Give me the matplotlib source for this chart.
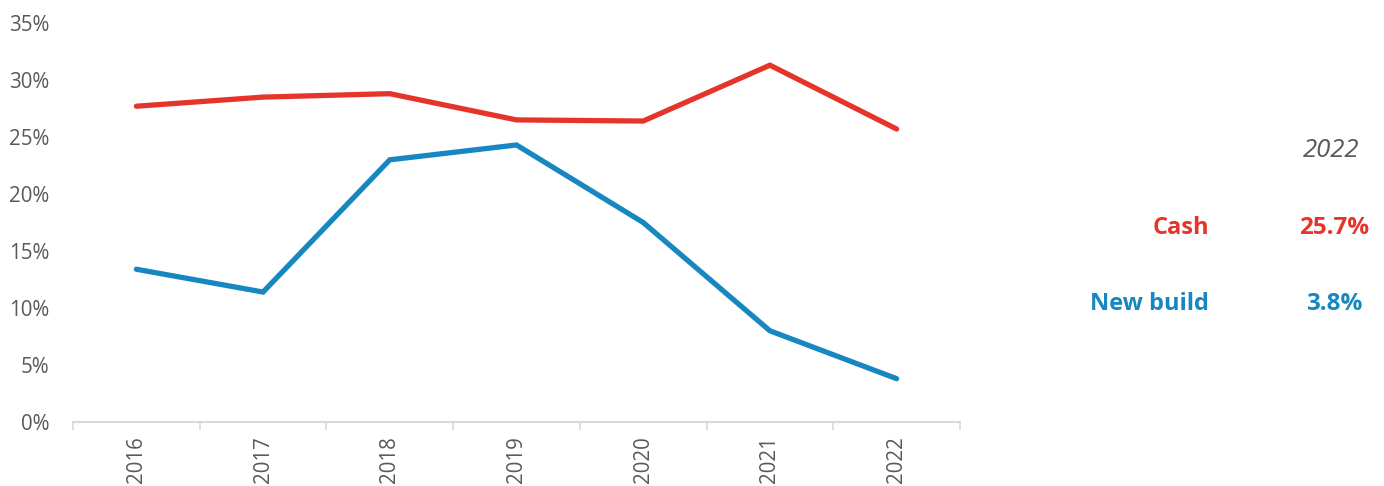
import numpy as np
import matplotlib
matplotlib.use('Agg')
import matplotlib.pyplot as plt
from matplotlib.ticker import FuncFormatter, MultipleLocator

years = ['2016', '2017', '2018', '2019', '2020', '2021', '2022']
cash = [27.7, 28.5, 28.8, 26.5, 26.4, 31.3, 25.7]
new_build = [13.4, 11.4, 23.0, 24.3, 17.5, 8.0, 3.8]

RED = '#E5352A'
BLUE = '#1787C1'
GREY = '#595959'

plt.rcParams['font.family'] = ['Open Sans', 'DejaVu Sans']

fig = plt.figure(figsize=(13.84, 4.86), dpi=100)
ax = fig.add_axes([73 / 1384, (486 - 422) / 486, (960 - 73) / 1384, (422 - 23) / 486])

x = np.arange(len(years))
ax.plot(x, cash, color=RED, lw=3.8, solid_capstyle='round', solid_joinstyle='miter')
ax.plot(x, new_build, color=BLUE, lw=3.8, solid_capstyle='round', solid_joinstyle='miter')

ax.set_xlim(-0.5, len(years) - 0.5)
ax.set_ylim(0, 35)
ax.yaxis.set_major_locator(MultipleLocator(5))
ax.yaxis.set_major_formatter(FuncFormatter(lambda v, p: f'{v:.0f}%'))

ax.set_xticks(x)
ax.set_xticklabels(years, rotation=90)
ax.set_xticks(np.arange(-0.5, len(years), 1), minor=True)
ax.tick_params(axis='x', which='major', length=0, pad=10, labelsize=14.8, labelcolor=GREY)
ax.tick_params(axis='x', which='minor', length=6, width=1.2, color='#d9d9d9')
ax.tick_params(axis='y', length=0, pad=17, labelsize=14.8, labelcolor=GREY)

for s in ['top', 'right', 'left']:
    ax.spines[s].set_visible(False)
ax.spines['bottom'].set_color('#d9d9d9')
ax.spines['bottom'].set_linewidth(1.5)

# side labels for latest year
def fy(py):
    return 1 - py / 486

fig.text(1331 / 1384, fy(150), years[-1], ha='center', va='center',
         fontsize=18.5, style='italic', color=GREY)
fig.text(1209 / 1384, fy(228), 'Cash', ha='right', va='center',
         fontsize=17, fontweight='bold', color=RED)
fig.text(1334 / 1384, fy(228), f'{cash[-1]:.1f}%', ha='center', va='center',
         fontsize=17.5, fontweight='bold', color=RED)
fig.text(1209 / 1384, fy(304), 'New build', ha='right', va='center',
         fontsize=17, fontweight='bold', color=BLUE)
fig.text(1334 / 1384, fy(304), f'{new_build[-1]:.1f}%', ha='center', va='center',
         fontsize=17.5, fontweight='bold', color=BLUE)

fig.savefig('out.png', dpi=100)
